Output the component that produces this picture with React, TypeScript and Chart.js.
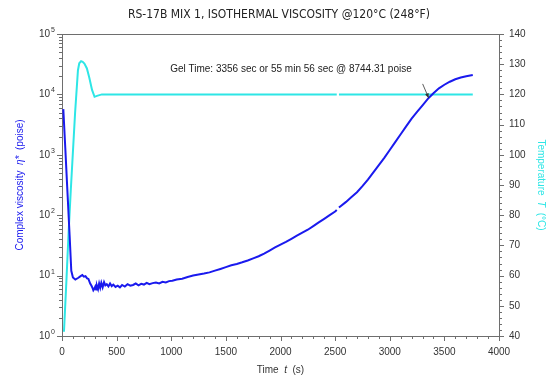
import React, { useEffect, useRef } from 'react';
import { Chart, registerables } from 'chart.js';

Chart.register(...registerables);

const FONT = "'Liberation Sans', Arial, Helvetica, sans-serif";
const TITLE_FONT = "'Liberation Sans Narrow', 'DejaVu Sans Condensed', 'Liberation Sans', sans-serif";

const chartTitle = 'RS-17B MIX 1, ISOTHERMAL VISCOSITY @120°C (248°F)';
const gelLabel = 'Gel Time: 3356 sec or 55 min 56 sec @ 8744.31 poise';
const gelTime = 3356;
const gelViscosity = 8744.31;
const labelTime = 990;
const labelViscosity = 26000;

// Complex viscosity (poise) vs time (s)
const viscTime = [12, 30, 50, 70, 85, 100, 122, 150, 170, 186, 200, 215, 230, 242, 258, 270, 280, 287, 295, 305, 312, 320, 330, 340, 350, 360, 372, 385, 397, 410, 425, 440, 455, 470, 490, 510, 530, 550, 575, 600, 625, 650, 675, 700, 725, 750, 775, 800, 830, 860, 890, 920, 950, 980, 1010, 1050, 1100, 1150, 1200, 1250, 1300, 1350, 1400, 1450, 1500, 1550, 1600, 1650, 1700, 1750, 1800, 1850, 1900, 1950, 2000, 2050, 2100, 2150, 2200, 2250, 2300, 2350, 2400, 2450, 2500, 2515, 2525, 2535, 2550, 2600, 2650, 2700, 2750, 2800, 2850, 2900, 2950, 3000, 3050, 3100, 3150, 3200, 3250, 3300, 3356, 3400, 3450, 3500, 3550, 3600, 3650, 3700, 3760];
const viscosity = [5700, 1300, 240, 45, 12, 9.3, 8.6, 9.2, 9.8, 10.2, 9.6, 9.8, 9.0, 8.8, 7.4, 6.8, 6.2, 5.7, 6.0, 6.6, 5.9, 6.8, 6.0, 7.4, 6.3, 7.6, 6.4, 7.8, 6.9, 7.2, 6.6, 7.4, 6.7, 7.1, 6.5, 6.8, 6.4, 7.0, 6.6, 7.2, 6.8, 7.0, 7.4, 6.9, 7.3, 7.1, 7.6, 7.2, 7.5, 7.7, 7.4, 7.9, 7.7, 8.1, 8.2, 8.6, 8.9, 9.5, 10.0, 10.4, 10.8, 11.3, 12.1, 12.9, 13.8, 14.8, 15.6, 16.6, 17.8, 19.3, 20.9, 23.2, 26.0, 29.2, 32.7, 36.3, 40.7, 45.7, 51.3, 57.5, 66, 75.9, 87, 100, 115, 122, null, 134, 141, 166, 200, 240, 302, 389, 513, 676, 891, 1202, 1622, 2188, 2951, 3981, 5129, 6607, 8744, 10471, 12589, 14454, 16218, 17783, 19055, 19953, 20893];

// Temperature (°C) vs time (s)
const tempTime = [18, 40, 60, 80, 100, 120, 146, 158, 175, 189, 205, 228, 250, 275, 298, 320, 365, 500, 1000, 1500, 2000, 2515, 2525, 2535, 3000, 3500, 3760];
const temperature = [41.4, 58, 74, 88, 101, 114, 128, 130.3, 131, 130.8, 130.2, 128.6, 125.5, 121.5, 119.2, 119.5, 120, 120, 120, 120, 120, 120, null, 120, 120, 120, 120];

const viscDecades = [0, 1, 2, 3, 4, 5];
const xMin = 0, xMax = 4000, xMajor = 500, xMinor = 100;
const tMin = 40, tMax = 140, tMajor = 10, tMinor = 2;

const BLUE = '#1a1aee';
const CYAN = '#2ee6e6';
const AXIS = '#6e6e6e';
const TEXT = '#333333';

type Part = { text: string; italic?: boolean };

function drawParts(ctx: CanvasRenderingContext2D, parts: Part[], size: number, color: string) {
  const fonts = parts.map(p => `${p.italic ? 'italic ' : ''}${size}px ${FONT}`);
  let total = 0;
  const widths = parts.map((p, i) => { ctx.font = fonts[i]; const w = ctx.measureText(p.text).width; total += w; return w; });
  let x = -total / 2;
  ctx.fillStyle = color;
  ctx.textAlign = 'left';
  ctx.textBaseline = 'middle';
  parts.forEach((p, i) => { ctx.font = fonts[i]; ctx.fillText(p.text, x, 0); x += widths[i]; });
}

const decor = {
  id: 'decor',
  afterDraw(chart: any) {
    const { ctx, chartArea: a, scales } = chart;
    const xs = scales.x, yl = scales.yL, yr = scales.yR;
    ctx.save();
    ctx.strokeStyle = AXIS;
    ctx.lineWidth = 1;
    ctx.beginPath();
    const top = Math.round(a.top) + 0.5;
    ctx.moveTo(a.left, top); ctx.lineTo(a.right, top);
    for (let t = xMin; t <= xMax; t += xMinor) {
      const px = Math.round(xs.getPixelForValue(t)) + 0.5;
      const len = t % xMajor === 0 ? 5 : 3;
      ctx.moveTo(px, a.bottom); ctx.lineTo(px, a.bottom + len);
    }
    for (let d = 0; d < 5; d++) {
      for (let m = 1; m <= 10; m++) {
        const v = m * Math.pow(10, d);
        const py = Math.round(yl.getPixelForValue(v)) + 0.5;
        const len = m === 1 || m === 10 ? 5 : 3;
        ctx.moveTo(a.left - len, py); ctx.lineTo(a.left, py);
      }
    }
    for (let t = tMin; t <= tMax; t += tMinor) {
      const py = Math.round(yr.getPixelForValue(t)) + 0.5;
      const len = t % tMajor === 0 ? 5 : 3;
      ctx.moveTo(a.right, py); ctx.lineTo(a.right + len, py);
    }
    ctx.stroke();

    ctx.fillStyle = TEXT;
    ctx.textBaseline = 'middle';
    for (const d of viscDecades) {
      const py = yl.getPixelForValue(Math.pow(10, d));
      const exp = String(d);
      ctx.font = `7px ${FONT}`;
      const we = ctx.measureText(exp).width;
      const right = a.left - 7;
      ctx.textAlign = 'left';
      ctx.fillText(exp, right - we, py - 4);
      ctx.font = `10px ${FONT}`;
      ctx.textAlign = 'right';
      ctx.fillText('10', right - we - 1, py);
    }

    ctx.save();
    ctx.translate((a.left + a.right) / 2, 370);
    drawParts(ctx, [{ text: 'Time  ' }, { text: 't', italic: true }, { text: '  (s)' }], 10, TEXT);
    ctx.restore();

    ctx.save();
    ctx.translate(20, (a.top + a.bottom) / 2);
    ctx.rotate(-Math.PI / 2);
    drawParts(ctx, [{ text: 'Complex viscosity  ' }, { text: 'η*', italic: true }, { text: '  (poise)' }], 10, BLUE);
    ctx.restore();

    ctx.save();
    ctx.translate(541, (a.top + a.bottom) / 2);
    ctx.rotate(Math.PI / 2);
    drawParts(ctx, [{ text: 'Temperature  ' }, { text: 'T', italic: true }, { text: '  (°C)' }], 10, CYAN);
    ctx.restore();

    ctx.font = `10px ${FONT}`;
    ctx.fillStyle = '#222';
    ctx.textAlign = 'left';
    ctx.textBaseline = 'middle';
    ctx.fillText(gelLabel, xs.getPixelForValue(labelTime), yl.getPixelForValue(labelViscosity));

    const tx = xs.getPixelForValue(gelTime);
    const ty = yl.getPixelForValue(gelViscosity);
    const sx = tx - 6, sy = ty - 14;
    ctx.strokeStyle = '#333';
    ctx.fillStyle = '#333';
    ctx.lineWidth = 0.8;
    ctx.beginPath(); ctx.moveTo(sx, sy); ctx.lineTo(tx, ty); ctx.stroke();
    const ang = Math.atan2(ty - sy, tx - sx);
    ctx.beginPath();
    ctx.moveTo(tx, ty);
    ctx.lineTo(tx - 5 * Math.cos(ang - 0.4), ty - 5 * Math.sin(ang - 0.4));
    ctx.lineTo(tx - 5 * Math.cos(ang + 0.4), ty - 5 * Math.sin(ang + 0.4));
    ctx.closePath(); ctx.fill();
    ctx.restore();
  },
};

export default function App() {
  const ref = useRef<HTMLCanvasElement | null>(null);
  useEffect(() => {
    if (!ref.current) return;
    const chart = new Chart(ref.current, {
      type: 'line',
      data: {
        datasets: [
          {
            label: 'Complex viscosity',
            data: viscTime.map((t, i) => ({ x: t, y: viscosity[i] })) as any,
            borderColor: BLUE,
            borderWidth: 2,
            pointRadius: 0,
            tension: 0,
            spanGaps: false,
            yAxisID: 'yL',
          },
          {
            label: 'Temperature',
            data: tempTime.map((t, i) => ({ x: t, y: temperature[i] })) as any,
            borderColor: CYAN,
            borderWidth: 2,
            pointRadius: 0,
            tension: 0,
            spanGaps: false,
            yAxisID: 'yR',
          },
        ],
      },
      options: {
        responsive: false,
        animation: false,
        events: [],
        layout: { padding: 0 },
        plugins: {
          legend: { display: false },
          tooltip: { enabled: false },
          title: {
            display: true,
            text: chartTitle,
            color: '#222',
            font: { family: TITLE_FONT, size: 12, weight: 'normal', lineHeight: 1.2 },
            padding: { top: 8, bottom: 11.6 },
          },
        },
        scales: {
          x: {
            type: 'linear',
            min: xMin,
            max: xMax,
            grid: { display: false, drawTicks: false },
            border: { display: true, color: AXIS },
            ticks: {
              stepSize: xMajor,
              padding: 10,
              color: TEXT,
              font: { family: FONT, size: 10 },
              maxRotation: 0,
              autoSkip: false,
              callback: (v: any) => String(v),
            },
            afterFit: (s: any) => { s.height = 39; },
          },
          yL: {
            type: 'logarithmic',
            position: 'left',
            min: 1,
            max: 100000,
            grid: { display: false, drawTicks: false },
            border: { display: true, color: AXIS },
            ticks: { display: false },
            afterFit: (s: any) => { s.width = 62; },
          },
          yR: {
            type: 'linear',
            position: 'right',
            min: tMin,
            max: tMax,
            grid: { display: false, drawTicks: false },
            border: { display: true, color: AXIS },
            ticks: {
              stepSize: tMajor,
              padding: 10,
              color: TEXT,
              font: { family: FONT, size: 10 },
              autoSkip: false,
            },
            afterFit: (s: any) => { s.width = 59; },
          },
        },
      } as any,
      plugins: [decor],
    });
    return () => chart.destroy();
  }, []);
  return (
    <div style={{ position: 'fixed', left: 0, top: 0, width: 558, height: 375, background: '#fff' }}>
      <canvas ref={ref} width={558} height={375} />
    </div>
  );
}
